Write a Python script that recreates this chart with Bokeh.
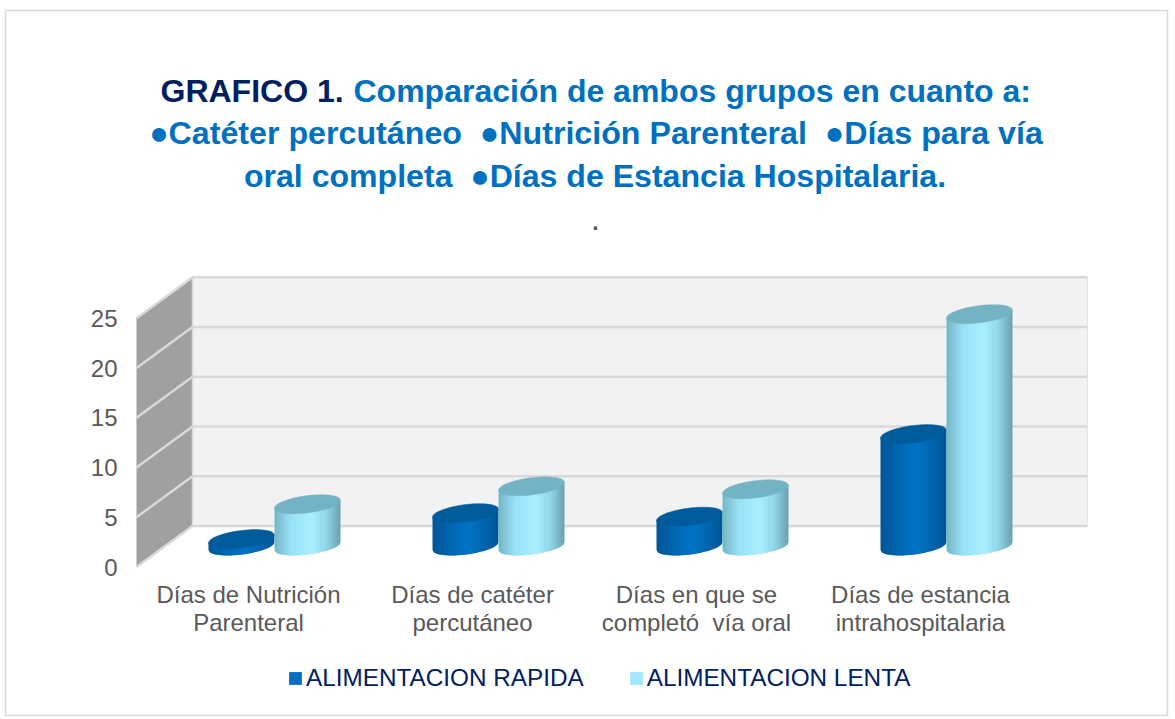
from math import cos, sin, pi, nan
from bokeh.plotting import figure
from bokeh.embed import file_html
from bokeh.resources import INLINE
from bokeh.models import Label, Legend, LegendItem, FixedTicker, Range1d, LinearAxis

categories_line1 = ["Días de Nutrición", "Días de catéter", "Días en que se", "Días de estancia"]
categories_line2 = ["Parenteral", "percutáneo", "completó\u00a0 vía oral", "intrahospitalaria"]
rapida = [0.7, 3.3, 2.95, 11.25]
lenta = [4.2, 6.0, 5.7, 23.3]
y_ticks = [0, 5, 10, 15, 20, 25]
series_names = ["ALIMENTACION RAPIDA", "ALIMENTACION LENTA"]

FONT = "Liberation Sans"
PX_X = 224.0       # pixels per category
PX_Y = 9.95        # pixels per value unit
X0, Y0 = 136.0, 566.5   # page pixel of category origin / value 0 on the front plane
W, H = 1175, 719


def dx(px):
    return (px - X0) / PX_X


def dy(py):
    return (Y0 - py) / PX_Y


p = figure(width=W, height=H, output_backend="svg", toolbar_location=None,
           x_range=Range1d(dx(0), dx(W)), y_range=Range1d(dy(H), dy(0)),
           min_border=0, min_border_left=0, min_border_right=0, min_border_top=0, min_border_bottom=0,
           outline_line_color=None, background_fill_color="white")
p.grid.visible = False

# outer border of the chart area
p.line([dx(5), dx(1167), dx(1167), dx(5), dx(5)], [dy(10), dy(10), dy(715), dy(715), dy(10)],
       line_color="#d9d9d9", line_width=1.5)

DEPTH_X, DEPTH_Y = 56 / PX_X, 41 / PX_Y
WALL_R = dx(1087)
top = y_ticks[-1]

# walls
p.patch([DEPTH_X, WALL_R, WALL_R, DEPTH_X], [DEPTH_Y, DEPTH_Y, top + DEPTH_Y, top + DEPTH_Y],
        fill_color="#f2f2f2", line_color=None)
p.patch([0, DEPTH_X, DEPTH_X, 0], [0, DEPTH_Y, top + DEPTH_Y, top],
        fill_color="#a0a0a0", line_color=None)
p.multi_line([[0, DEPTH_X, WALL_R] for v in y_ticks],
             [[v, v + DEPTH_Y, v + DEPTH_Y] for v in y_ticks],
             line_color="#d9d9d9", line_width=2.5)
p.line([WALL_R, WALL_R], [DEPTH_Y, top + DEPTH_Y], line_color="#e4e4e4", line_width=1)
p.line([DEPTH_X, DEPTH_X], [DEPTH_Y, top + DEPTH_Y], line_color="#d9d9d9", line_width=1.5)


def lerp(stops, t):
    for (t0, c0), (t1, c1) in zip(stops, stops[1:]):
        if t <= t1:
            f = (t - t0) / (t1 - t0)
            rgb = [round(c0[i] + (c1[i] - c0[i]) * f) for i in range(3)]
            return "#%02x%02x%02x" % tuple(rgb)
    return "#%02x%02x%02x" % stops[-1][1]


DARK = [(0, (0, 86, 150)), (0.3, (0, 104, 180)), (0.55, (0, 114, 196)), (0.8, (0, 100, 172)), (1, (0, 86, 148))]
LIGHT = [(0, (116, 182, 200)), (0.25, (152, 224, 244)), (0.55, (168, 240, 255)),
         (0.78, (146, 216, 234)), (1, (104, 160, 176))]
TOP_DARK, TOP_LIGHT = "#005b9b", "#74b3c4"

A, B, K = 33.0, 8.6, 0.12     # half-width, half-height, tilt of the ellipses (pixels)
BASE = 2.11                   # mid-depth floor in value units
N = 33
OVERLAP = 1.2                 # pixels each strip runs under the next one
SHIFT = 26.0                  # pixels from a category's centre to its pair of cylinders


def cylinders(values, offset_px, stops, top_color):
    xs, ys, colors = [], [], []
    tx, ty = [], []
    for i, v in enumerate(values):
        cx = X0 + (i + 0.5) * PX_X + SHIFT + offset_px
        for j in range(N):
            u0 = -A + 2 * A * j / N
            u1 = min(A, -A + 2 * A * (j + 1) / N + OVERLAP)
            steps = [u0 + (u1 - u0) * s / 3 for s in range(4)]
            low = [(K * u - B * max(0, 1 - (u / A) ** 2) ** 0.5) / PX_Y + BASE for u in steps]
            xs.append([(cx + u - X0) / PX_X for u in steps] + [(cx + u1 - X0) / PX_X, (cx + u0 - X0) / PX_X])
            ys.append(low + [BASE + v + K * u1 / PX_Y, BASE + v + K * u0 / PX_Y])
            colors.append(lerp(stops, (j + 0.5) / N))
        ex, ey = [], []
        for s in range(73):
            a = s * 2 * pi / 72
            u = A * cos(a)
            ex.append((cx + u - X0) / PX_X)
            ey.append(BASE + v + (K * u + B * sin(a)) / PX_Y)
        tx.append(ex)
        ty.append(ey)
    p.patches(xs, ys, fill_color=colors, line_color=None)
    p.patches(tx, ty, fill_color=top_color, line_color=top_color, line_width=0.5)


cylinders(rapida, -33.0, DARK, TOP_DARK)
cylinders(lenta, 33.0, LIGHT, TOP_LIGHT)


def clean(axis, size="24px"):
    axis.axis_line_color = None
    axis.major_tick_line_color = None
    axis.minor_tick_line_color = None
    axis.major_tick_out = 0
    axis.major_tick_in = 0
    axis.minor_tick_out = 0
    axis.minor_tick_in = 0
    axis.major_label_text_font = FONT
    axis.major_label_text_font_size = size
    axis.major_label_text_color = "#595959"


# axes drawn at their place inside the whole-canvas frame
ya = p.yaxis[0]
ya.ticker = FixedTicker(ticks=y_ticks)
clean(ya, "24px")
ya.fixed_location = dx(130)
ya.major_label_standoff = 13

centers = [i + 0.5 for i in range(len(categories_line1))]
xa = p.xaxis[0]
xa.ticker = FixedTicker(ticks=centers)
xa.major_label_overrides = dict(zip(centers, categories_line1))
clean(xa)
xa.fixed_location = dy(569)
xa.major_label_standoff = 11

xb = LinearAxis(ticker=FixedTicker(ticks=centers), major_label_overrides=dict(zip(centers, categories_line2)),
                fixed_location=dy(597), major_label_standoff=11)
clean(xb)
p.add_layout(xb, "below")

# legend
r1 = p.quad(left=[nan], right=[nan], top=[nan], bottom=[nan], fill_color="#0070c0", line_color=None)
r2 = p.quad(left=[nan], right=[nan], top=[nan], bottom=[nan], fill_color="#a1e9ff", line_color=None)
legend = Legend(items=[LegendItem(label=series_names[0], renderers=[r1]),
                       LegendItem(label=series_names[1], renderers=[r2])],
                orientation="horizontal", location=(287, 27), padding=0, margin=0,
                glyph_width=16, glyph_height=16, label_standoff=3, spacing=44,
                background_fill_alpha=0, border_line_color=None,
                label_text_font=FONT, label_text_font_size="24.3px", label_text_color="#002060")
p.add_layout(legend)


def title(text, px, py, color, align="left", size="32px"):
    p.add_layout(Label(x=dx(px), y=dy(py), text=text, text_font=FONT, text_font_size=size,
                       text_font_style="bold", text_color=color, text_align=align,
                       text_baseline="alphabetic"))


NB = "\u00a0"
title("GRAFICO 1.", 160, 90, "#002060")
title("Comparación de ambos grupos en cuanto a:", 353, 90, "#0070c0")
title(f"●Catéter percutáneo{NB}{NB}●Nutrición Parenteral{NB}{NB}●Días para vía", 595.5, 132, "#0070c0", "center", "32.2px")
title(f"oral completa{NB}{NB}●Días de Estancia Hospitalaria.", 594.5, 175, "#0070c0", "center", "32.1px")
title(".", 595, 221, "#595959", "center", "23px")

open("out.html", "w").write(file_html(p, INLINE))
